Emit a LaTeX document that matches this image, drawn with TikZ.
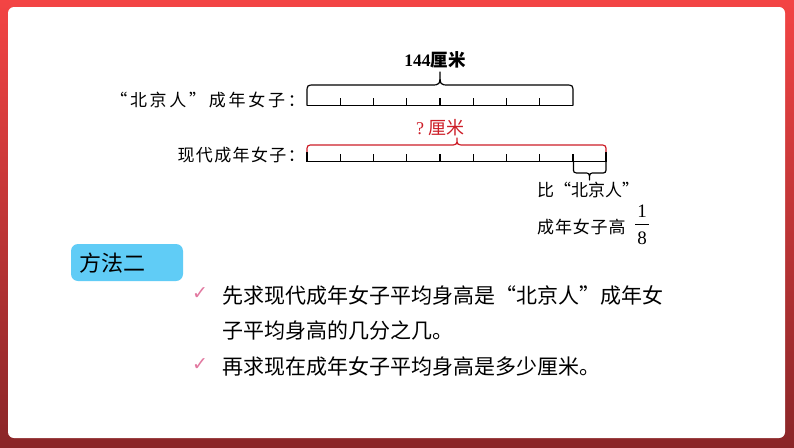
\documentclass[tikz,border=0pt]{standalone}
\usepackage{fontspec}
\usetikzlibrary{calc}
\setmainfont{Liberation Serif}
\newfontfamily\cjk{Noto Sans CJK SC}
\newfontfamily\cjkls[LetterSpace=8]{Noto Sans CJK SC}
\newfontfamily\cjklw[LetterSpace=16]{Noto Sans CJK SC}
\newfontfamily\cjkln[LetterSpace=0]{Noto Sans CJK SC}
\newfontfamily\cjklm[LetterSpace=5]{Noto Sans CJK SC}
\newfontfamily\symf{DejaVu Sans}
\definecolor{frametop}{RGB}{243,68,68}
\definecolor{framebot}{RGB}{138,38,40}
\definecolor{boxblue}{RGB}{96,204,246}
\definecolor{tickpink}{RGB}{226,120,160}
\definecolor{qred}{RGB}{205,30,40}
\tikzset{
  seg/.style={line width=1.2pt,black},
  brc/.style={line width=1.2pt,line join=round},
  lbl/.style={inner sep=0pt,font=\cjkls\fontsize{17}{19}\selectfont},
  body/.style={inner sep=0pt,anchor=west,font=\cjk\fontsize{21}{24}\selectfont},
  chk/.style={inner sep=0pt,text=tickpink,font=\symf\fontsize{19}{20}\selectfont},
  dig/.style={inner sep=0pt,font=\fontsize{19}{20}\selectfont}
}
\begin{document}
\begin{tikzpicture}[x=1pt,y=-1pt]
\path[use as bounding box] (0,0) rectangle (794,447);
% frame
\shade[top color=frametop,bottom color=framebot] (0,0) rectangle (794,447);
\fill[white,rounded corners=6pt] (8,7) rectangle (785,438);

% top number line
\node[lbl,anchor=east,font=\cjklw\fontsize{17}{19}\selectfont] (l1) at (305,100) {“北京人”成年女子：};
\coordinate (a0) at (307,105.7);
\coordinate (a8) at (573,105.7);
\draw[seg] (a0) -- (a8);
\foreach \i in {1,...,7} {\draw[seg] ($(a0)+(33.25*\i,0)$) -- ++(0,-8);}
\draw[brc] (a0) -- (307,93) .. controls (307,85) .. (315,85) -- (431,85)
  .. controls (440,85) .. (440,72) .. controls (440,85) .. (449,85) -- (565,85)
  .. controls (573,85) .. (573,93) -- (a8);
\node[inner sep=0pt] (t1) at (435,60) {\fontsize{17.5}{19}\selectfont\bfseries 144\cjk 厘米};

% bottom number line
\node[lbl,anchor=east] (l2) at (305,155) {现代成年女子：};
\coordinate (b0) at (307,161.7);
\coordinate (b9) at (606,161.7);
\draw[seg] (b0) -- (b9);
\foreach \i in {1,...,8} {\draw[seg] ($(b0)+(33.25*\i,0)$) -- ++(0,-8);}
\draw[seg] (b0) -- ++(0,-10);
\draw[seg] (b9) -- ++(0,-10);
\draw[brc,qred] (307,152) .. controls (307,145) .. (314,145) -- (449,145)
  .. controls (457,145) .. (457,138) .. controls (457,145) .. (465,145) -- (599,145)
  .. controls (606,145) .. (606,152);
\node[inner sep=0pt,text=qred] (t2) at (440,128) {\fontsize{18}{20}\selectfont ?\hspace{4pt}\cjk 厘米};

% small brace under last segment
\draw[brc] (573.4,161.7) -- (573.4,167) .. controls (573.4,173) .. (580,173) -- (584,173)
  .. controls (589.5,173) .. (589.5,180) .. controls (589.5,173) .. (595,173) -- (600,173)
  .. controls (606,173) .. (606,167) -- (b9);
\node[lbl,anchor=west,font=\cjkln\fontsize{17}{19}\selectfont] (d1) at (537,190) {比“北京人”};
\node[lbl,anchor=west,font=\cjklm\fontsize{17}{19}\selectfont] (d2) at (537,227) {成年女子高};
\node[dig] (n1) at (642,211) {1};
\node[dig] (n8) at (642,238) {8};
\draw[line width=0.9pt] (635,224.5) -- (649,224.5);

% method box
\node[fill=boxblue,rounded corners=7pt,minimum width=112pt,minimum height=37pt,inner sep=0pt] (m) at (127,262.5) {};
\node[inner sep=0pt,anchor=west,font=\cjk\fontsize{22}{24}\selectfont] (mt) at (79,263) {方法二};

% bullets
\node[chk] (c1) at (200,294) {✓};
\node[body] (s1) at (222,295) {先求现代成年女子平均身高是“北京人”成年女};
\node[body] (s2) at (222,331) {子平均身高的几分之几。};
\node[chk] (c2) at (200,365) {✓};
\node[body] (s3) at (222,366) {再求现在成年女子平均身高是多少厘米。};
\end{tikzpicture}
\end{document}
